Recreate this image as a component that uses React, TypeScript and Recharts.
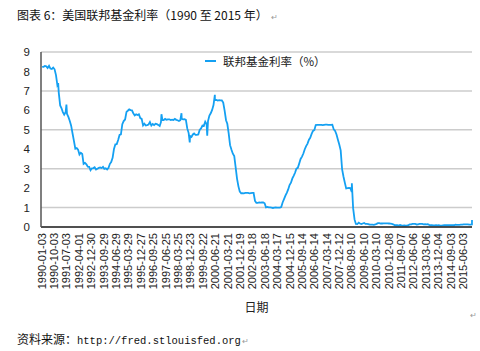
import { CartesianGrid, Label, Line, LineChart, XAxis, YAxis } from 'recharts'

// monthly average of the effective federal funds rate (%), Jan..Dec per row
const rate1990s = [
  8.23, 8.24, 8.28, 8.26, 8.18, 8.29, 8.15, 8.13, 8.2, 8.11, 7.81, 7.31,
  6.91, 6.25, 6.12, 5.91, 5.78, 5.9, 5.82, 5.66, 5.45, 5.21, 4.81, 4.43,
  4.03, 4.06, 3.98, 3.73, 3.82, 3.76, 3.25, 3.3, 3.22, 3.1, 3.09, 2.92,
  3.02, 3.03, 3.07, 2.96, 3.0, 3.04, 3.06, 3.03, 3.09, 2.99, 3.02, 2.96,
  3.05, 3.25, 3.34, 3.56, 4.01, 4.25, 4.26, 4.47, 4.73, 4.76, 5.29, 5.45,
  5.53, 5.92, 5.98, 6.05, 6.01, 6.0, 5.85, 5.74, 5.8, 5.76, 5.8, 5.6,
  5.56, 5.22, 5.31, 5.22, 5.24, 5.27, 5.4, 5.22, 5.3, 5.24, 5.31, 5.29,
  5.25, 5.19, 5.39, 5.51, 5.5, 5.56, 5.52, 5.54, 5.54, 5.5, 5.52, 5.5,
  5.56, 5.51, 5.49, 5.45, 5.49, 5.56, 5.54, 5.55, 5.51, 5.07, 4.83, 4.68,
  4.63, 4.76, 4.81, 4.74, 4.74, 4.76, 4.99, 5.07, 5.22, 5.2, 5.42, 5.3,
]
const rate2000s = [
  5.45, 5.73, 5.85, 6.02, 6.27, 6.53, 6.54, 6.5, 6.52, 6.51, 6.51, 6.4,
  5.98, 5.49, 5.31, 4.8, 4.21, 3.97, 3.77, 3.65, 3.07, 2.49, 2.09, 1.82,
  1.73, 1.74, 1.73, 1.75, 1.75, 1.75, 1.73, 1.74, 1.75, 1.75, 1.34, 1.24,
  1.24, 1.26, 1.25, 1.26, 1.26, 1.22, 1.01, 1.03, 1.01, 1.01, 1.0, 0.98,
  1.0, 1.01, 1.0, 1.0, 1.0, 1.03, 1.26, 1.43, 1.61, 1.76, 1.93, 2.16,
  2.28, 2.5, 2.63, 2.79, 3.0, 3.04, 3.26, 3.5, 3.62, 3.78, 4.0, 4.16,
  4.29, 4.49, 4.59, 4.79, 4.94, 4.99, 5.24, 5.25, 5.25, 5.25, 5.25, 5.24,
  5.25, 5.26, 5.26, 5.25, 5.25, 5.25, 5.26, 5.02, 4.94, 4.76, 4.49, 4.24,
  3.94, 2.98, 2.61, 2.28, 1.98, 2.0, 2.01, 2.0, 1.81, 0.97, 0.39, 0.16,
  0.15, 0.22, 0.18, 0.15, 0.18, 0.21, 0.16, 0.16, 0.15, 0.12, 0.12, 0.12,
]
const rate2010s = [
  0.11, 0.13, 0.16, 0.2, 0.2, 0.18, 0.18, 0.19, 0.19, 0.19, 0.19, 0.18,
  0.17, 0.16, 0.14, 0.1, 0.09, 0.09, 0.07, 0.1, 0.08, 0.07, 0.08, 0.07,
  0.08, 0.1, 0.13, 0.14, 0.16, 0.16, 0.16, 0.13, 0.14, 0.16, 0.16, 0.16,
  0.14, 0.15, 0.14, 0.15, 0.11, 0.09, 0.09, 0.08, 0.08, 0.09, 0.08, 0.09,
  0.07, 0.07, 0.08, 0.09, 0.09, 0.1, 0.09, 0.09, 0.09, 0.09, 0.09, 0.12,
  0.11, 0.11, 0.11, 0.12, 0.12, 0.13, 0.13, 0.14, 0.14, 0.12, 0.12, 0.13,
]

// single weeks that stick out of the monthly average
const spikeDates = ['1991-01-02', '1991-07-03', '1997-03-26', '1998-06-10', '1998-12-09', '1999-12-29', '2000-06-14', '2008-09-17', '2015-12-16']
const spikeRates = [7.4, 6.3, 5.8, 5.85, 4.35, 4.7, 6.8, 2.25, 0.36]

const tickLabels = [
  '1990-01-03', '1990-10-03', '1991-07-03', '1992-04-01', '1992-12-30', '1993-09-29', '1994-06-29',
  '1995-03-29', '1995-12-27', '1996-09-25', '1997-06-25', '1998-03-25', '1998-12-23', '1999-09-22',
  '2000-06-21', '2001-03-21', '2001-12-19', '2002-09-18', '2003-06-18', '2004-03-17', '2004-12-15',
  '2005-09-14', '2006-06-14', '2007-03-14', '2007-12-12', '2008-09-10', '2009-06-10', '2010-03-10',
  '2010-12-08', '2011-09-07', '2012-06-06', '2013-03-06', '2013-12-04', '2014-09-03', '2015-06-03',
]
const yTicks = [0, 1, 2, 3, 4, 5, 6, 7, 8, 9]

const BLUE = '#14a0f2'
const CJK = "'Noto Sans CJK SC', sans-serif"
const week = (d: string) => (Date.parse(d) - Date.parse('1990-01-03')) / 604800000

const monthly = [...rate1990s, ...rate2000s, ...rate2010s].map((v, i) => {
  const y = 1990 + Math.floor(i / 12)
  const m = String((i % 12) + 1).padStart(2, '0')
  return { x: week(`${y}-${m}-15`), rate: v }
})
const data = [...monthly, ...spikeDates.map((d, i) => ({ x: week(d), rate: spikeRates[i] }))].sort((a, b) => a.x - b.x)

const tickWeeks = tickLabels.map(week)
const labelAt = new Map(tickWeeks.map((w, i) => [w, tickLabels[i]]))

function DateTick({ x, y, payload }: any) {
  return (
    <text
      x={x}
      y={y}
      dy="0.36em"
      textAnchor="end"
      transform={`rotate(-90 ${x} ${y})`}
      fontSize={11}
      fontFamily="'Liberation Sans', Arial, sans-serif"
      fill="#222"
    >
      {labelAt.get(payload.value)}
    </text>
  )
}

export default function App() {
  return (
    <div style={{ position: 'absolute', left: 0, top: 0, width: 480, height: 351, background: '#fff', color: '#111' }}>
      <div style={{ position: 'absolute', left: 17, top: 6, fontSize: 12, fontFamily: CJK, whiteSpace: 'nowrap' }}>
        图表 6：美国联邦基金利率（1990 至 2015 年）<span style={{ fontSize: 8, color: '#999', marginLeft: 3 }}>↵</span>
      </div>
      <div style={{ position: 'absolute', left: 0, top: 0 }}>
        <LineChart width={480} height={351} data={data} margin={{ top: 52, right: 8, left: 0, bottom: 34 }}>
          <CartesianGrid horizontal vertical={false} stroke="#cccccc" strokeWidth={1.5} />
          <XAxis
            dataKey="x"
            type="number"
            domain={[-2, 1354]}
            ticks={tickWeeks}
            interval={0}
            tick={<DateTick />}
            tickLine={false}
            tickSize={6}
            tickMargin={0}
            height={90}
            axisLine={{ stroke: '#222', strokeWidth: 1.5 }}
          >
            <Label value="日期" position="insideBottom" offset={5} fontSize={12} fill="#222" fontFamily={CJK} />
          </XAxis>
          <YAxis
            type="number"
            domain={[0, 9]}
            ticks={yTicks}
            width={41}
            tickLine={false}
            tickMargin={5}
            axisLine={{ stroke: '#555', strokeWidth: 1.5 }}
            tick={{ fontSize: 11.5, fill: '#222', fontFamily: "'Liberation Sans', Arial, sans-serif" }}
          />
          <Line type="linear" dataKey="rate" name="联邦基金利率（%）" stroke={BLUE} strokeWidth={1.8} dot={false} isAnimationActive={false} />
        </LineChart>
      </div>
      <div style={{ position: 'absolute', left: 205, top: 53, display: 'flex', alignItems: 'center', gap: 7, fontSize: 11.5, color: '#222', fontFamily: CJK }}>
        <span style={{ width: 11, height: 2, background: BLUE, display: 'inline-block' }} />
        <span>联邦基金利率（%）</span>
      </div>
      <div style={{ position: 'absolute', left: 17, top: 330, fontSize: 12, whiteSpace: 'nowrap' }}>
        <span style={{ fontFamily: CJK }}>资料来源：</span>
        <span style={{ fontFamily: "'Liberation Mono', monospace", fontSize: 10.5 }}>http://fred.stlouisfed.org</span>
        <span style={{ fontSize: 8, color: '#999', marginLeft: 1 }}>↵</span>
      </div>
      <div style={{ position: 'absolute', left: 470, top: 311, fontSize: 8, color: '#999' }}>↵</div>
    </div>
  )
}
